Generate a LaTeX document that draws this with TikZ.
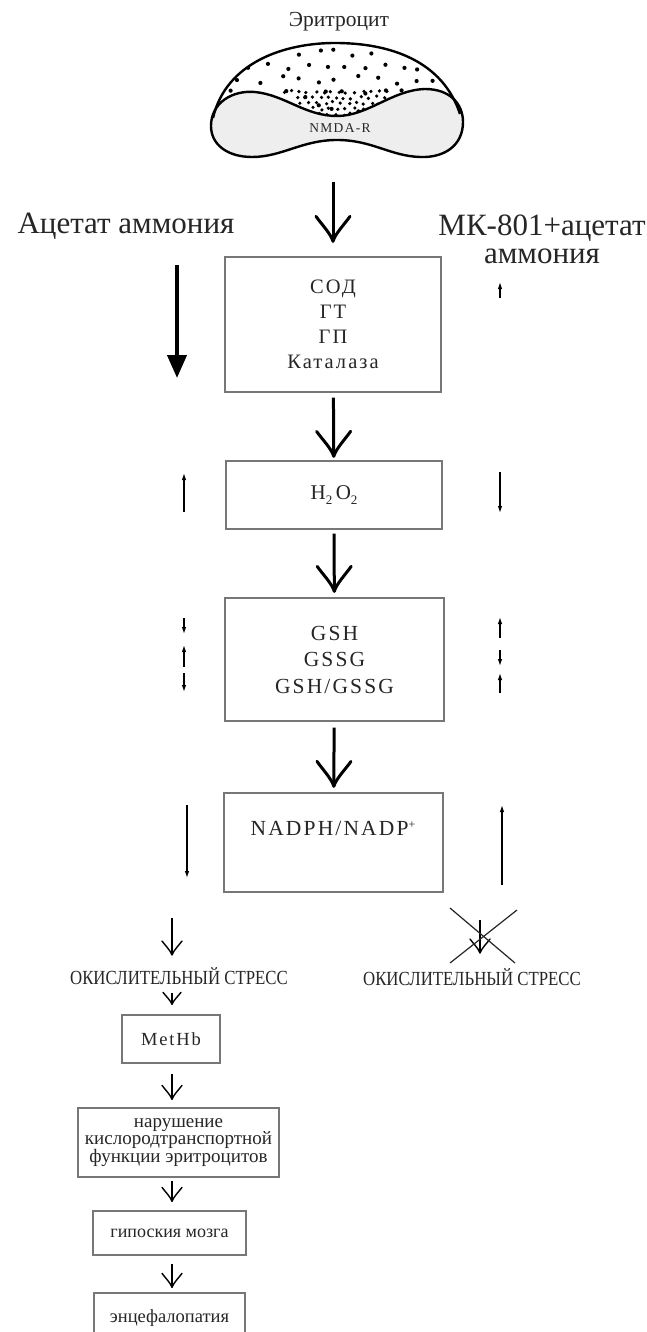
\documentclass[tikz,border=0pt]{standalone}
\usepackage{fontspec}
\setmainfont{Liberation Serif}
\newfontfamily\narrowserif[FakeStretch=0.84]{Liberation Serif}
\usetikzlibrary{arrows.meta}

% open arrow tip with two curved barbs
\pgfdeclarearrow{
  name = Fork,
  parameters = {\the\pgfarrowlength,\the\pgfarrowwidth},
  setup code = {
    \pgfarrowssettipend{0pt}
    \pgfarrowssetlineend{-0.5\pgflinewidth}
    \pgfarrowsupperhullpoint{-\pgfarrowlength}{.5\pgfarrowwidth}
    \pgfarrowsupperhullpoint{0pt}{0pt}
    \pgfarrowssavethe\pgfarrowlength
    \pgfarrowssavethe\pgfarrowwidth
  },
  drawing code = {
    \pgfsetdash{}{0pt}
    \pgfsetroundcap
    \pgfsetroundjoin
    \pgfpathmoveto{\pgfqpoint{-\pgfarrowlength}{.5\pgfarrowwidth}}
    \pgfpathcurveto{\pgfqpoint{-.72\pgfarrowlength}{.36\pgfarrowwidth}}{\pgfqpoint{-.3\pgfarrowlength}{.06\pgfarrowwidth}}{\pgfqpoint{0pt}{0pt}}
    \pgfpathcurveto{\pgfqpoint{-.3\pgfarrowlength}{-.06\pgfarrowwidth}}{\pgfqpoint{-.72\pgfarrowlength}{-.36\pgfarrowwidth}}{\pgfqpoint{-\pgfarrowlength}{-.5\pgfarrowwidth}}
    \pgfusepathqstroke
  },
  defaults = {length = 25pt, width = 34pt}
}

\definecolor{txt}{HTML}{262626}
\definecolor{boxgray}{HTML}{777777}
\definecolor{cellfill}{HTML}{EEEEEE}

\newcommand{\spaced}[1]{{\addfontfeatures{LetterSpace=10}#1}}

\begin{document}
\begin{tikzpicture}[x=1pt,y=-1pt,
  box/.style={draw=boxgray, line width=1.3pt, inner sep=0pt, text=txt, align=center},
  fork/.style={line width=3pt, -{Fork[length=25pt,width=34pt]}},
  smallfork/.style={line width=1.4pt, -{Fork[length=14pt,width=20pt]}},
  thinarr/.style={line width=1.2pt, -{Latex[length=7pt,width=4.5pt]}},
  label/.style={text=txt, inner sep=0pt},
]
\useasboundingbox (0,0) rectangle (646,1332);
\fill[white] (0,0) rectangle (646,1332);

% ---- erythrocyte ----
\node[label, font=\fontsize{21.5}{24}\selectfont] (title) at (339,22) {Эритроцит};

\def\dome{(213,118) .. controls (226,62) and (285,43) .. (335,43) .. controls (392,43) and (443,62) .. (460,114)}
\begin{scope}
  \clip \dome -- cycle;
  \pgfmathsetseed{5}
  % sparse granules on a jittered grid over the cap
  \foreach \row in {0,...,4} {
    \foreach \col in {0,...,12} {
      \pgfmathsetmacro\xx{222+19*\col+9*mod(\row,2)+5*rand}
      \pgfmathsetmacro\yy{52+14*\row+4*rand}
      \fill[black] (\xx,\yy) circle (2.1);
    }
  }
  % dense granules funnelling down to the centre
  \foreach \row in {0,...,4} {
    \pgfmathsetmacro\half{54-9*\row}
    \pgfmathtruncatemacro\nn{2*\half/8}
    \foreach \k in {0,...,\nn} {
      \pgfmathsetmacro\xx{337-\half+8*\k+4*mod(\row,2)+2*rand}
      \pgfmathsetmacro\yy{92+5.5*\row+1.5*rand}
      \fill[black] (\xx,\yy) circle (1.8);
    }
  }
\end{scope}
\filldraw[fill=cellfill, draw=black, line width=2.4pt]
  (211,126) .. controls (211,103) and (232,90) .. (255,92)
  .. controls (285,95) and (305,116) .. (337,116)
  .. controls (368,116) and (392,90) .. (425,89)
  .. controls (450,89) and (463,104) .. (463,122)
  .. controls (463,145) and (445,158) .. (420,157)
  .. controls (390,156) and (372,140) .. (337,140)
  .. controls (302,140) and (282,157) .. (252,157)
  .. controls (228,157) and (211,145) .. (211,126) -- cycle;
\draw[line width=2.4pt, line join=round] \dome;
\node[label, font=\fontsize{13.5}{15}\selectfont] (nmda) at (340,128) {\spaced{NMDA-R}};
\coordinate (cellout) at (333,182);

% ---- side headings ----
\node[label, font=\fontsize{31}{31}\selectfont] (amm) at (126,226) {Ацетат аммония};
\node[label, font=\fontsize{31}{28}\selectfont, align=center] (mk) at (542,239) {МК-801+ацетат\\аммония};

% ---- main column ----
\node[box, minimum width=216, minimum height=135, font=\fontsize{20.5}{25}\selectfont] (enz) at (333,324.5) {\spaced{СОД}\\\spaced{ГТ}\\\spaced{ГП}\\\spaced{Каталаза}};
\node[box, minimum width=216, minimum height=68, font=\fontsize{21}{24}\selectfont] (hp) at (334,495) {H\raisebox{-0.45ex}{\fontsize{13}{13}\selectfont 2}\,O\raisebox{-0.45ex}{\fontsize{13}{13}\selectfont 2}};
\node[box, minimum width=219, minimum height=123, font=\fontsize{21.5}{26.5}\selectfont] (gsh) at (334.5,659.5) {\spaced{GSH}\\\spaced{GSSG}\\\spaced{GSH/GSSG}};
\node[box, minimum width=219, minimum height=99] (nadp) at (333.5,842.5) {};
\node[label, font=\fontsize{21.5}{24}\selectfont] (nadpt) at (333,828) {\spaced{NADPH/NADP}\raisebox{0.7ex}{\fontsize{12}{12}\selectfont +}};

\draw[fork] (cellout) -- (enz.north) [shorten >=15pt];
\draw[fork, shorten <=5pt, shorten >=4pt] (enz) -- (hp);
\draw[fork, shorten <=4pt, shorten >=6pt] (hp) -- (gsh);
\draw[fork, shorten <=6pt, shorten >=6pt] (gsh) -- (nadp);

% ---- change indicators ----
\draw[line width=4pt, -{Triangle[length=23pt,width=19pt]}] (177,265) -- (177,378);
\draw[thinarr] (500,298) -- (500,282);

\draw[thinarr] (184,512) -- (184,473);
\draw[thinarr] (500,472) -- (500,513);

\draw[thinarr] (184,618) -- (184,634);
\draw[thinarr] (184,667) -- (184,645);
\draw[thinarr] (184,673) -- (184,692);
\draw[thinarr] (500,638) -- (500,617);
\draw[thinarr] (500,650) -- (500,666);
\draw[thinarr] (500,693) -- (500,673);

\draw[thinarr] (187,805) -- (187,878);
\draw[thinarr] (502,885) -- (502,805);

% ---- consequences, left branch ----
\coordinate (lstart) at (172,918);
\node[label, font=\narrowserif\fontsize{20}{22}\selectfont] (ox1) at (179,976) {ОКИСЛИТЕЛЬНЫЙ СТРЕСС};
\node[box, minimum width=98, minimum height=48, font=\fontsize{18.5}{20}\selectfont] (met) at (171,1039) {\spaced{MetHb}};
\node[box, minimum width=201, minimum height=69, font=\fontsize{19}{17.5}\selectfont] (nar) at (178.5,1142.5) {нарушение\\кислородтранспортной\\функции эритроцитов};
\node[box, minimum width=153, minimum height=44, font=\fontsize{18}{20}\selectfont] (gip) at (169.5,1233) {гипоския мозга};
\node[box, minimum width=151, minimum height=50, font=\fontsize{18.5}{20}\selectfont] (enc) at (169.5,1318) {энцефалопатия};

\draw[smallfork] (lstart) -- (lstart |- 0,955);
\draw[smallfork, -{Fork[length=12pt,width=18pt]}, shorten <=8pt, shorten >=10pt] (ox1.south -| lstart) -- (met.north -| lstart);
\draw[smallfork, shorten <=10pt, shorten >=8pt] (met.south -| lstart) -- (nar.north -| lstart);
\draw[smallfork, shorten <=3pt, shorten >=9pt] (nar.south -| lstart) -- (gip.north -| lstart);
\draw[smallfork, shorten <=8pt, shorten >=5pt] (gip.south -| lstart) -- (enc.north -| lstart);

% ---- consequences, right branch (blocked) ----
\coordinate (rstart) at (480,920);
\coordinate (rtip) at (480,953);
\node[label, font=\narrowserif\fontsize{20}{22}\selectfont] (ox2) at (472,977) {ОКИСЛИТЕЛЬНЫЙ СТРЕСС};
\draw[smallfork] (rstart) -- (rtip);
\coordinate (xa) at (450,908);
\coordinate (xb) at (515,963);
\coordinate (xc) at (517,910);
\coordinate (xd) at (450,963);
\draw[line width=1.2pt, draw=txt] (xa) -- (xb);
\draw[line width=1.2pt, draw=txt] (xc) -- (xd);
\end{tikzpicture}
\end{document}
